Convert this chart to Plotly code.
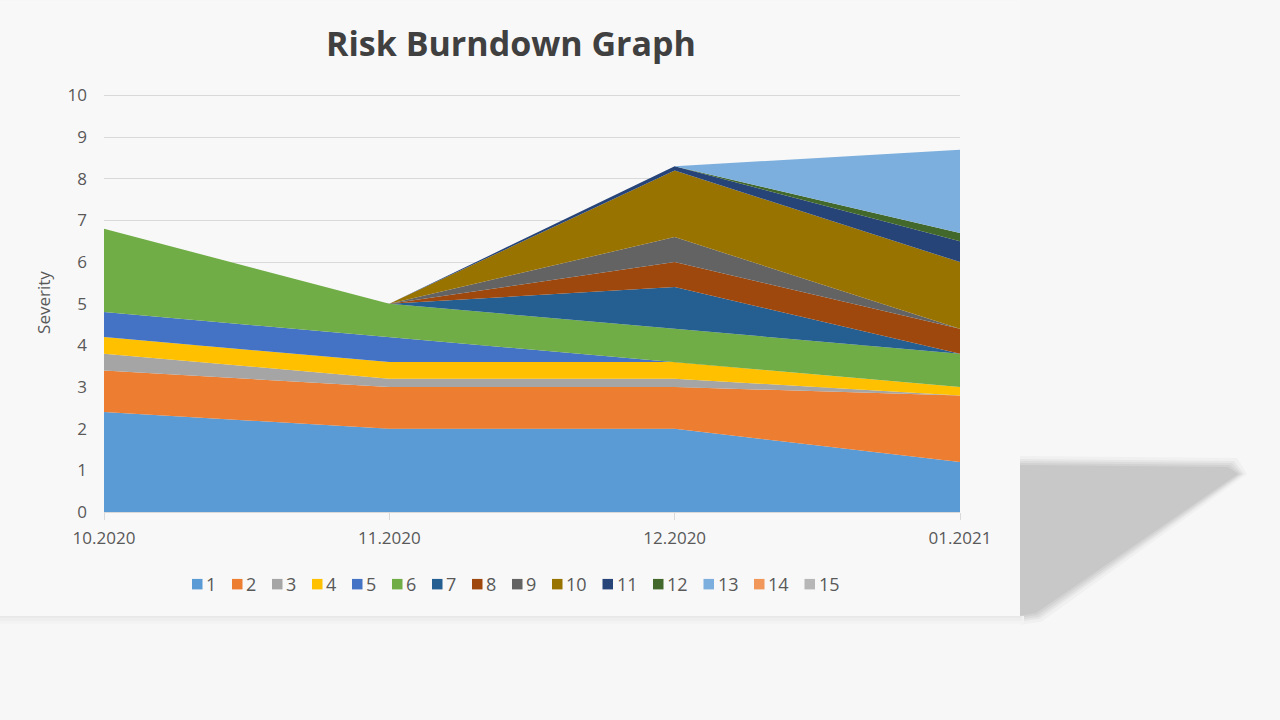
import plotly.graph_objects as go

months = ["10.2020", "11.2020", "12.2020", "01.2021"]
series_names = [str(i) for i in range(1, 16)]
values = {
    "1":  [2.4, 2.0, 2.0, 1.2],
    "2":  [1.0, 1.0, 1.0, 1.6],
    "3":  [0.4, 0.2, 0.2, 0.0],
    "4":  [0.4, 0.4, 0.4, 0.2],
    "5":  [0.6, 0.6, 0.0, 0.0],
    "6":  [2.0, 0.8, 0.8, 0.8],
    "7":  [0.0, 0.0, 1.0, 0.0],
    "8":  [0.0, 0.0, 0.6, 0.6],
    "9":  [0.0, 0.0, 0.6, 0.0],
    "10": [0.0, 0.0, 1.6, 1.6],
    "11": [0.0, 0.0, 0.1, 0.5],
    "12": [0.0, 0.0, 0.0, 0.2],
    "13": [0.0, 0.0, 0.0, 2.0],
    "14": [0.0, 0.0, 0.0, 0.0],
    "15": [0.0, 0.0, 0.0, 0.0],
}
colors = ["#5B9BD5", "#ED7D31", "#A5A5A5", "#FFC000", "#4472C4", "#70AD47",
          "#255E91", "#9E480E", "#636363", "#997300", "#264478", "#43682B",
          "#7CAFDD", "#F1975A", "#B7B7B7"]
y_ticks = list(range(0, 11))

BG = "#F7F7F7"
TXT = "#595959"
FONT = "Open Sans, Lato, sans-serif"

fig = go.Figure()
for name, col in zip(series_names, colors):
    fig.add_trace(go.Scatter(
        x=months, y=values[name], name=name, mode="lines",
        stackgroup="one", fillcolor=col,
        line=dict(width=0, color=col),
        showlegend=False,
        hoverinfo="x+y+name",
    ))

# pixel -> paper helpers (decoration only)
Y_TOP = 10.06
L, R, T, B = 104, 960, 92.5, 512
def px(x):
    return (x - L) / (R - L)
def py(y):
    return (B - y) / (B - T)

shapes = []
# blurred perspective shadow behind the chart box
layers = [(9, "#F0F0F0"), (6, "#E6E6E6"), (4, "#DCDCDC"), (2, "#D2D2D2"), (0, "#C8C8C8")]
for g, c in layers:
    pts = [(1020, 465 - g), (1228 + g, 467 - g), (1238 + g, 474),
           (1036 + g * 0.6, 613 + g), (1020, 616 + g)]
    path = "M " + " L ".join(f"{px(a):.5f},{py(b):.5f}" for a, b in pts) + " Z"
    shapes.append(dict(type="path", xref="paper", yref="paper", path=path,
                       fillcolor=c, line=dict(width=0), layer="below"))
# faint shadow under the chart box
for g, c in [(8, "#F3F3F3"), (5, "#EEEEEE"), (2, "#E8E8E8")]:
    shapes.append(dict(type="rect", xref="paper", yref="paper",
                       x0=px(0), x1=px(1020 + g * 0.5), y0=py(616 + g), y1=py(616),
                       fillcolor=c, line=dict(width=0), layer="below"))
# chart box
shapes.append(dict(type="rect", xref="paper", yref="paper",
                   x0=px(0), x1=px(1020), y0=py(616), y1=py(0),
                   fillcolor="#F8F8F8", line=dict(width=0), layer="below"))

# legend (square swatches + labels laid out from the series list)
annotations = []
x_cur = 192
leg_y = 584
for name, col in zip(series_names, colors):
    shapes.append(dict(type="rect", xref="paper", yref="paper",
                       x0=px(x_cur), x1=px(x_cur + 10.5),
                       y0=py(leg_y + 5.5), y1=py(leg_y - 5),
                       fillcolor=col, line=dict(width=0)))
    annotations.append(dict(text=name, xref="paper", yref="paper",
                            x=px(x_cur + 12), y=py(leg_y), xanchor="left",
                            yanchor="middle", showarrow=False,
                            font=dict(size=18, color=TXT, family=FONT)))
    x_cur += 12 + 10.5 * len(name) + 17.5

fig.update_layout(
    width=1280, height=720,
    paper_bgcolor=BG, plot_bgcolor="rgba(0,0,0,0)",
    margin=dict(l=L, r=1280 - R, t=T, b=720 - B, autoexpand=False),
    font=dict(family=FONT, color=TXT, size=17),
    title=dict(text="<b>Risk Burndown Graph</b>", x=511 / 1280, xanchor="center",
               y=1 - 44 / 720, yanchor="middle",
               font=dict(size=34, color="#404040", family=FONT)),
    xaxis=dict(type="category", range=[0, 3], showgrid=False,
               showline=True, linecolor="#D9D9D9", linewidth=1,
               ticks="outside", ticklen=7, tickcolor="#D9D9D9",
               ticklabelstandoff=4,
               tickfont=dict(size=17, color=TXT), zeroline=False),
    yaxis=dict(range=[0, Y_TOP], tickvals=y_ticks, showgrid=True,
               gridcolor="#D9D9D9", gridwidth=1, zeroline=False,
               tickfont=dict(size=17, color=TXT), ticks="",
               ticklabelstandoff=16,
               title=dict(text="Severity", standoff=12,
                          font=dict(size=17, color=TXT))),
    showlegend=False,
    shapes=shapes,
    annotations=annotations,
    hovermode="x",
)
fig.write_html(
    "out.html",
    config={"displayModeBar": False},
    post_script="document.body.style.margin='0';document.body.style.background='#F7F7F7';",
)
